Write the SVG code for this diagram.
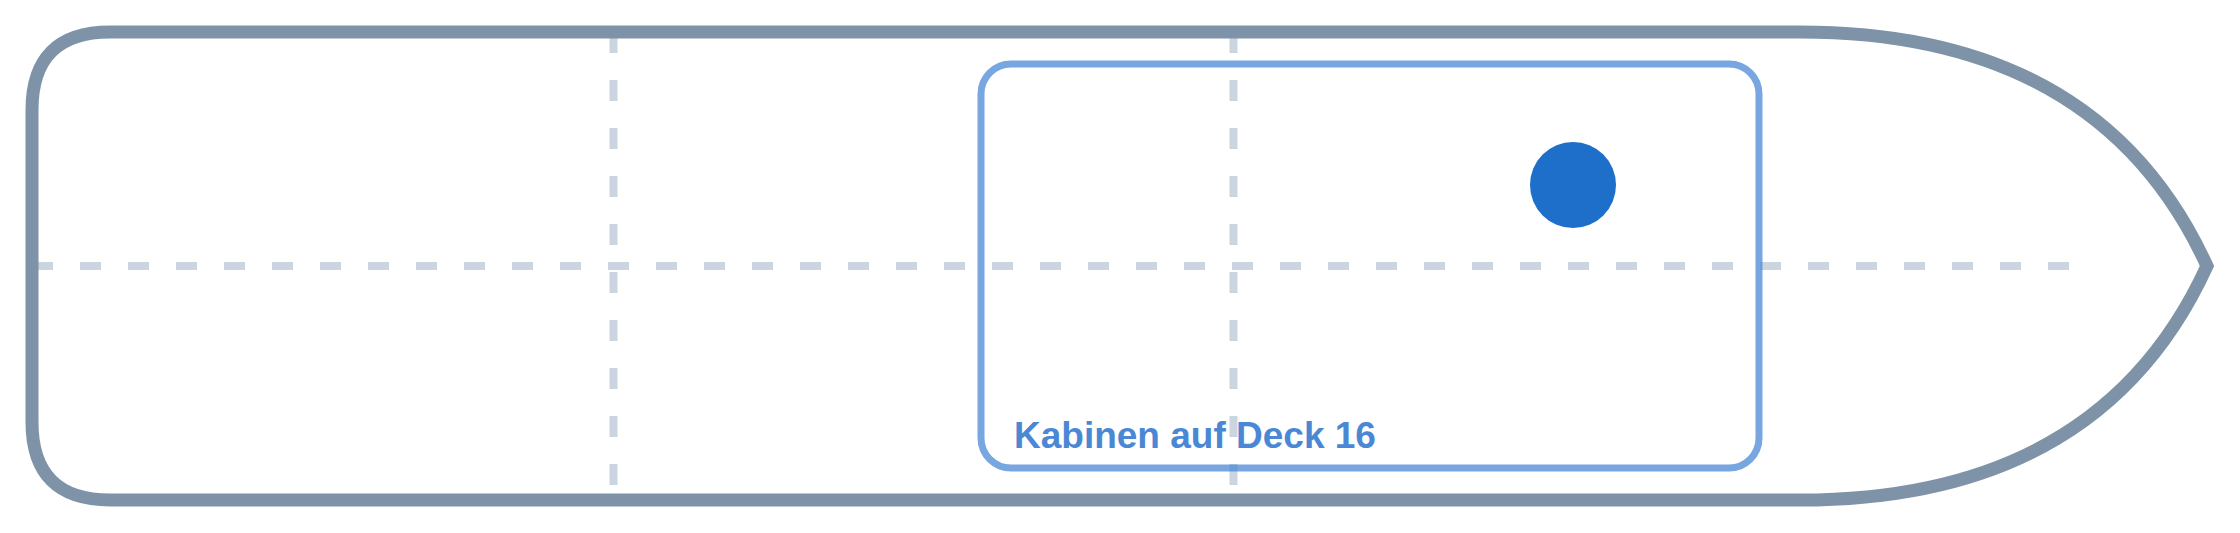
<svg xmlns="http://www.w3.org/2000/svg" width="2240" height="533" viewBox="0 0 2240 533">
  <style>
    .grid { stroke: #cad5e0; stroke-width: 8; stroke-dasharray: 21 27; fill: none; }
    .hull { fill: none; stroke: #7f93a8; stroke-width: 13; stroke-linejoin: miter; }
    .zone { fill: none; stroke: #4a88d6; stroke-opacity: 0.75; stroke-width: 7; }
    .zone-label { font-family: "Liberation Sans", Arial, sans-serif; font-weight: bold; font-size: 37px; fill: #4a88d6; }
    .spot { fill: #1d6fca; }
  </style>
  <rect x="0" y="0" width="2240" height="533" fill="#ffffff"/>
  <g id="grid-lines">
    <line class="grid" x1="32" y1="266" x2="2090" y2="266"/>
    <line class="grid" x1="613.5" y1="32" x2="613.5" y2="500"/>
    <line class="grid" x1="1233.5" y1="32" x2="1233.5" y2="500"/>
  </g>
  <g id="hull">
    <path class="hull" d="M 110 32 H 1800 Q 2100 32 2207 266 Q 2100 500 1800 500 H 110 Q 32 500 32 422 V 110 Q 32 32 110 32 Z"/>
  </g>
  <g id="cabin-zone">
    <rect class="zone" x="981" y="64" width="778" height="404" rx="30" ry="30"/>
    <text class="zone-label" x="1014" y="448">Kabinen auf Deck 16</text>
  </g>
  <g id="marker">
    <circle class="spot" cx="1573" cy="185" r="43"/>
  </g>
  <g id="connectors"/>
</svg>
